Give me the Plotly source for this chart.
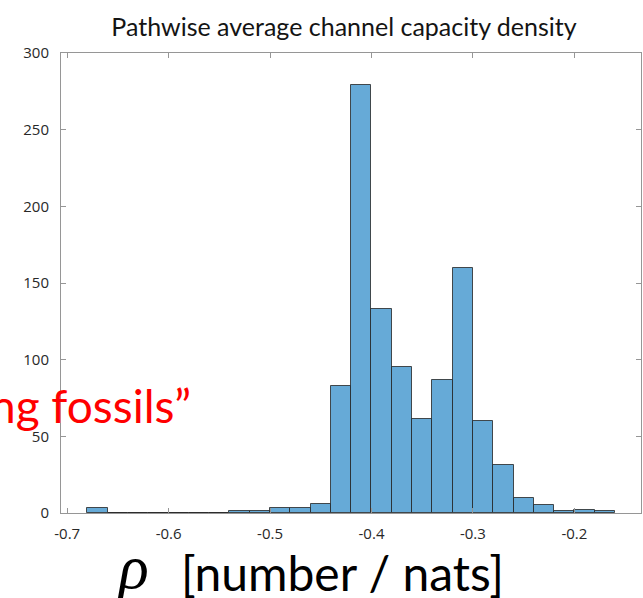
import plotly.graph_objects as go

# Histogram bins (left edges, width 0.02) and counts
bin_left = [-0.68, -0.66, -0.64, -0.62, -0.60, -0.58, -0.56, -0.54, -0.52, -0.50,
            -0.48, -0.46, -0.44, -0.42, -0.40, -0.38, -0.36, -0.34, -0.32, -0.30,
            -0.28, -0.26, -0.24, -0.22, -0.20, -0.18]
counts = [3, 0, 0, 0, 0, 0, 0, 1, 1, 3,
          3, 6, 83, 279, 133, 95, 61, 87, 160, 60,
          31, 10, 5, 1, 2, 1]
bin_width = 0.02

x_ticks = [-0.7, -0.6, -0.5, -0.4, -0.3, -0.2]
x_tick_labels = ["-0.7", "-0.6", "-0.5", "-0.4", "-0.3", "-0.2"]
y_ticks = [0, 50, 100, 150, 200, 250, 300]
y_tick_labels = ["0", "50", "100", "150", "200", "250", "300"]

title_text = "Pathwise average channel capacity density"
xlabel_symbol = "ρ"
xlabel_text = "[number / nats]"
overlay_text = "ng fossils\u201d"

W, H = 643, 598
ML, MR, MT, MB = 60.5, 1.5, 53, 84.5
PW = W - ML - MR
PH = H - MT - MB


def px_to_paper_x(px):
    return (px - ML) / PW


def px_to_paper_y(py):
    return (H - MB - py) / PH


fig = go.Figure()
fig.add_trace(go.Bar(
    x=bin_left,
    y=counts,
    width=[bin_width] * len(bin_left),
    offset=0,
    marker=dict(color="rgb(102,170,215)",
                line=dict(color="rgba(35,35,35,0.8)", width=1)),
    showlegend=False,
    hoverinfo="x+y",
))

axis_common = dict(
    showline=True, linecolor="rgb(150,150,150)", linewidth=1,
    mirror="ticks", ticks="inside", ticklen=5, tickcolor="rgb(150,150,150)",
    showgrid=False, zeroline=False,
    tickfont=dict(family="Open Sans", size=15, color="rgb(40,40,40)"),
)

fig.update_layout(
    width=W, height=H, autosize=False,
    margin=dict(l=ML, r=MR, t=MT, b=MB, pad=0, autoexpand=False),
    paper_bgcolor="white", plot_bgcolor="white",
    bargap=0,
    title=dict(text=title_text, x=344 / W, xanchor="center", xref="container",
               y=1 - 27 / H, yanchor="middle", yref="container",
               font=dict(family="Lato", size=25, color="rgb(20,20,20)")),
    xaxis=dict(range=[-0.7061, -0.1343], tickvals=x_ticks, ticktext=x_tick_labels,
               ticklabelstandoff=7, **axis_common),
    yaxis=dict(range=[0, 300], tickvals=y_ticks, ticktext=y_tick_labels,
               ticklabelstandoff=8, **axis_common),
)

fig.add_annotation(
    text=xlabel_symbol, xref="paper", yref="paper",
    x=px_to_paper_x(133), y=px_to_paper_y(568), xanchor="center", yanchor="middle",
    showarrow=False,
    font=dict(family="Liberation Serif", size=62, color="black", style="italic"),
)
fig.add_annotation(
    text=xlabel_text, xref="paper", yref="paper",
    x=px_to_paper_x(179), y=px_to_paper_y(573), xanchor="left", yanchor="middle",
    showarrow=False,
    font=dict(family="Lato", size=48, color="black"),
)
fig.add_annotation(
    text=overlay_text, xref="paper", yref="paper",
    x=px_to_paper_x(193), y=px_to_paper_y(406), xanchor="right", yanchor="middle",
    showarrow=False,
    font=dict(family="Lato", size=46, color="rgb(255,0,0)"),
)

fig.write_html(
    "out.html",
    config={"responsive": False, "displayModeBar": False},
    post_script="document.body.style.margin='0';document.body.style.overflow='hidden';",
)
